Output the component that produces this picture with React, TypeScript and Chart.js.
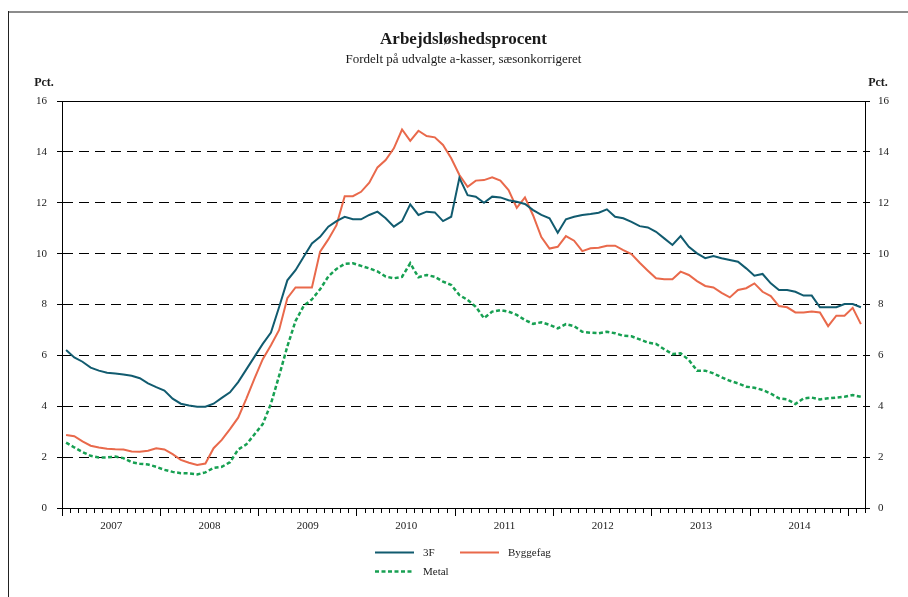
import React, { useEffect, useRef } from 'react';
import { Chart, registerables } from 'chart.js';

Chart.register(...registerables);

const titleText = 'Arbejdsløshedsprocent';
const subtitleText = 'Fordelt på udvalgte a-kasser, sæsonkorrigeret';
const unitText = 'Pct.';

const years = ['2007', '2008', '2009', '2010', '2011', '2012', '2013', '2014', '2015'];
const monthNames = ['01', '02', '03', '04', '05', '06', '07', '08', '09', '10', '11', '12'];
const monthCount = 98; // Jan 2007 .. Feb 2015
const months: string[] = [];
for (let i = 0; i < monthCount; i++) {
  months.push(years[Math.floor(i / 12)] + '-' + monthNames[i % 12]);
}

const threeF = [
  6.21, 5.92, 5.75, 5.52, 5.4, 5.32, 5.29, 5.25, 5.2, 5.1,
  4.9, 4.75, 4.62, 4.3, 4.1, 4.03, 3.98, 3.98, 4.1, 4.33,
  4.55, 4.95, 5.45, 5.95, 6.45, 6.9, 7.9, 8.95, 9.35, 9.88,
  10.4, 10.66, 11.06, 11.28, 11.45, 11.35, 11.35, 11.52, 11.65, 11.39,
  11.06, 11.28, 11.94, 11.52, 11.65, 11.62, 11.28, 11.45, 12.98, 12.3,
  12.24, 12.0, 12.24, 12.21, 12.1, 12.04, 11.95, 11.71, 11.52, 11.39,
  10.82, 11.35, 11.45, 11.52, 11.56, 11.61, 11.74, 11.45, 11.39, 11.25,
  11.08, 11.03, 10.86, 10.6, 10.34, 10.69, 10.27, 10.01, 9.82, 9.91,
  9.82, 9.75, 9.68, 9.42, 9.13, 9.2, 8.83, 8.57, 8.57, 8.5,
  8.35, 8.35, 7.89, 7.89, 7.89, 8.02, 8.02, 7.89,
];

const byggefag = [
  2.87, 2.82, 2.62, 2.45, 2.38, 2.33, 2.31, 2.3, 2.22, 2.21,
  2.25, 2.35, 2.3, 2.12, 1.89, 1.78, 1.69, 1.75, 2.35, 2.68,
  3.1, 3.55, 4.3, 5.1, 5.85, 6.4, 7.0, 8.25, 8.67, 8.67,
  8.67, 10.08, 10.56, 11.12, 12.26, 12.26, 12.43, 12.79, 13.39, 13.68,
  14.14, 14.88, 14.43, 14.83, 14.62, 14.57, 14.27, 13.75, 13.09, 12.63,
  12.87, 12.89, 13.0, 12.87, 12.5, 11.8, 12.21, 11.5, 10.65, 10.2,
  10.27, 10.69, 10.51, 10.1, 10.21, 10.23, 10.31, 10.31, 10.14, 9.98,
  9.64, 9.33, 9.03, 8.99, 8.99, 9.29, 9.16, 8.92, 8.73, 8.67,
  8.46, 8.28, 8.57, 8.64, 8.83, 8.5, 8.33, 7.94, 7.89, 7.69,
  7.69, 7.72, 7.69, 7.15, 7.56, 7.56, 7.87, 7.23,
];

const metal = [
  2.57, 2.38, 2.2, 2.05, 1.99, 1.99, 2.02, 1.96, 1.8, 1.74,
  1.71, 1.62, 1.5, 1.42, 1.37, 1.36, 1.32, 1.4, 1.58, 1.62,
  1.8, 2.3, 2.5, 2.9, 3.3, 4.1, 5.2, 6.35, 7.35, 7.95,
  8.2, 8.6, 9.1, 9.4, 9.6, 9.62, 9.52, 9.42, 9.3, 9.1,
  9.03, 9.09, 9.62, 9.07, 9.16, 9.09, 8.9, 8.77, 8.37, 8.18,
  7.91, 7.46, 7.72, 7.78, 7.72, 7.59, 7.39, 7.24, 7.3, 7.2,
  7.06, 7.23, 7.15, 6.93, 6.89, 6.87, 6.93, 6.87, 6.77, 6.75,
  6.63, 6.5, 6.45, 6.24, 6.05, 6.08, 5.82, 5.4, 5.4, 5.29,
  5.14, 5.0, 4.9, 4.77, 4.73, 4.64, 4.5, 4.31, 4.27, 4.09,
  4.31, 4.34, 4.27, 4.31, 4.34, 4.37, 4.44, 4.37,
];

const seriesLabels = ['3F', 'Byggefag', 'Metal'];
const yTicks = { min: 0, max: 16, step: 2 };

const FONT = '"Liberation Serif", "Times New Roman", serif';
const TEXT = '#1a1a1a';

const toPoints = (arr: number[]) => arr.map((v, i) => ({ x: i + 0.5, y: v }));

const textPlugin = {
  id: 'textPlugin',
  afterDraw(chart: any) {
    const ctx = chart.ctx as CanvasRenderingContext2D;
    const { left, right, top, bottom } = chart.chartArea;
    const cx = (left + right) / 2;
    ctx.save();
    ctx.fillStyle = TEXT;
    ctx.textAlign = 'center';
    ctx.textBaseline = 'alphabetic';
    ctx.font = 'bold 17px ' + FONT;
    ctx.fillText(titleText, cx, top - 57);
    ctx.font = '13px ' + FONT;
    ctx.fillText(subtitleText, cx, top - 38);
    ctx.font = 'bold 12px ' + FONT;
    ctx.fillText(unitText, left - 18, top - 15);
    ctx.fillText(unitText, right + 13, top - 15);

    // legend
    ctx.font = '11px ' + FONT;
    ctx.textAlign = 'left';
    ctx.textBaseline = 'middle';
    chart.data.datasets.forEach((ds: any, i: number) => {
      const col = i % 2;
      const row = Math.floor(i / 2);
      const x0 = cx - 88.5 + col * 85;
      const y0 = bottom + 44.5 + row * 19;
      ctx.save();
      ctx.strokeStyle = ds.borderColor;
      ctx.lineWidth = ds.borderWidth;
      ctx.setLineDash(ds.borderDash || []);
      ctx.beginPath();
      ctx.moveTo(x0, y0);
      ctx.lineTo(x0 + 39, y0);
      ctx.stroke();
      ctx.restore();
      ctx.fillStyle = TEXT;
      ctx.fillText(ds.label, x0 + 48, y0 + 0.5);
    });
    ctx.restore();
  },
};

export default function App() {
  const ref = useRef<HTMLCanvasElement | null>(null);

  useEffect(() => {
    if (!ref.current) return;
    Chart.defaults.font.family = FONT;
    const tickFont = { family: FONT, size: 11 };
    const chart = new Chart(ref.current, {
      type: 'line',
      data: {
        labels: months,
        datasets: [
          {
            label: seriesLabels[0],
            data: toPoints(threeF),
            borderColor: '#115b6f',
            borderWidth: 2,
            pointRadius: 0,
            tension: 0,
            fill: false,
          },
          {
            label: seriesLabels[1],
            data: toPoints(byggefag),
            borderColor: '#e9694b',
            borderWidth: 2,
            pointRadius: 0,
            tension: 0,
            fill: false,
          },
          {
            label: seriesLabels[2],
            data: toPoints(metal),
            borderColor: '#17a052',
            borderWidth: 2.5,
            borderDash: [4, 2.5],
            pointRadius: 0,
            tension: 0,
            fill: false,
          },
        ],
      } as any,
      options: {
        responsive: false,
        animation: false,
        layout: { padding: { top: 101, left: 0, right: 0, bottom: 0 } },
        plugins: {
          legend: { display: false },
          title: { display: false },
          tooltip: { enabled: false },
        },
        scales: {
          x: {
            type: 'linear',
            min: 0,
            max: months.length,
            offset: false,
            afterFit: (s: any) => {
              s.height = 89;
            },
            grid: {
              drawOnChartArea: false,
              drawTicks: true,
              tickLength: 8,
              color: '#000',
              tickColor: '#000',
              tickWidth: 1,
              tickBorderDash: (c: any) =>
                c.tick && Math.round(c.tick.value) % 12 === 0 ? [] : [4, 20],
            },
            border: { display: true, color: '#000', width: 1 },
            ticks: {
              stepSize: 1,
              autoSkip: false,
              maxRotation: 0,
              minRotation: 0,
              maxTicksLimit: 200,
              padding: 4,
              color: TEXT,
              font: tickFont,
              callback: (v: any) => {
                const n = Math.round(Number(v));
                return n % 12 === 6 ? years[Math.floor(n / 12)] : '';
              },
            },
          },
          y: {
            position: 'left',
            min: yTicks.min,
            max: yTicks.max,
            afterFit: (s: any) => {
              s.width = 62;
            },
            ticks: { stepSize: yTicks.step, padding: 10, color: TEXT, font: tickFont },
            grid: {
              color: '#000',
              lineWidth: 1,
              drawOnChartArea: true,
              tickLength: 5,
              tickColor: '#000',
              tickBorderDash: [],
            },
            border: {
              display: true,
              color: '#000',
              width: 1,
              dash: (c: any) =>
                c.tick && (c.tick.value === yTicks.min || c.tick.value === yTicks.max) ? [] : [10, 6],
            },
          },
          y2: {
            position: 'right',
            min: yTicks.min,
            max: yTicks.max,
            afterFit: (s: any) => {
              s.width = 43;
            },
            ticks: { stepSize: yTicks.step, padding: 8, color: TEXT, font: tickFont },
            grid: {
              drawOnChartArea: false,
              tickLength: 5,
              tickColor: '#000',
              tickBorderDash: [],
            },
            border: { display: true, color: '#000', width: 1 },
          },
        },
      } as any,
      plugins: [textPlugin],
    });
    return () => chart.destroy();
  }, []);

  return (
    <div
      style={{
        position: 'fixed',
        left: 0,
        top: 0,
        width: 908,
        height: 597,
        overflow: 'hidden',
        background: '#fff',
      }}
    >
      <canvas ref={ref} width={908} height={597} style={{ position: 'absolute', left: 0, top: 0 }} />
      <div style={{ position: 'absolute', left: 8, top: 11, width: 900, height: 2, background: '#8c8c8c' }} />
      <div style={{ position: 'absolute', left: 8, top: 11, width: 1, height: 586, background: '#222' }} />
    </div>
  );
}
